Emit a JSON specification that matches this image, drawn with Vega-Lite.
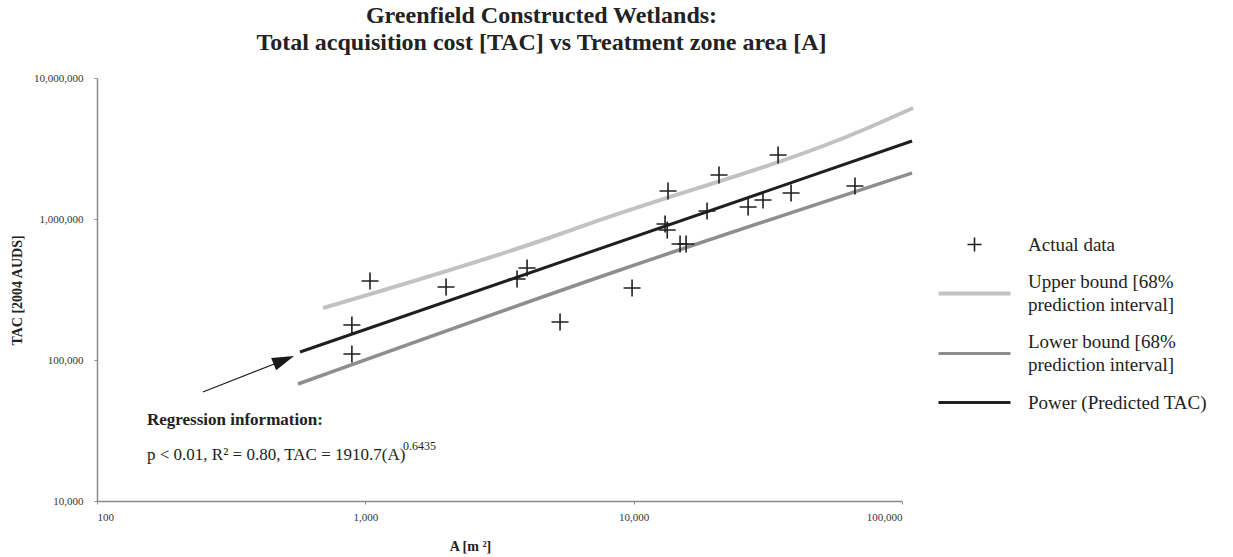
{
  "$schema": "https://vega.github.io/schema/vega-lite/v6.json",
  "width": 805,
  "height": 423,
  "autosize": {"type": "none"},
  "padding": {"left": 97, "top": 78, "right": 331, "bottom": 56},
  "background": "white",
  "title": {
    "text": ["Greenfield Constructed Wetlands:", "Total acquisition cost [TAC] vs Treatment zone area [A]"],
    "font": "Liberation Serif",
    "fontSize": 24,
    "fontWeight": "bold",
    "color": "#222222",
    "lineHeight": 27,
    "anchor": "middle",
    "dx": 42,
    "offset": 17
  },
  "datasets": {
    "points": [
      {"A": 1041, "TAC": 363000, "series": "Actual data"},
      {"A": 891, "TAC": 177000, "series": "Actual data"},
      {"A": 891, "TAC": 110300, "series": "Actual data"},
      {"A": 1999, "TAC": 329400, "series": "Actual data"},
      {"A": 3676, "TAC": 375400, "series": "Actual data"},
      {"A": 4006, "TAC": 449300, "series": "Actual data"},
      {"A": 5317, "TAC": 186000, "series": "Actual data"},
      {"A": 9863, "TAC": 324000, "series": "Actual data"},
      {"A": 13090, "TAC": 921000, "series": "Actual data"},
      {"A": 13340, "TAC": 835000, "series": "Actual data"},
      {"A": 13430, "TAC": 1580000, "series": "Actual data"},
      {"A": 14890, "TAC": 665000, "series": "Actual data"},
      {"A": 15680, "TAC": 665000, "series": "Actual data"},
      {"A": 18770, "TAC": 1139000, "series": "Actual data"},
      {"A": 20800, "TAC": 2051000, "series": "Actual data"},
      {"A": 26700, "TAC": 1217000, "series": "Actual data"},
      {"A": 30340, "TAC": 1364000, "series": "Actual data"},
      {"A": 34530, "TAC": 2844000, "series": "Actual data"},
      {"A": 38600, "TAC": 1529000, "series": "Actual data"},
      {"A": 66800, "TAC": 1714000, "series": "Actual data"}
    ],
    "lines": [
      {"A": 696, "TAC": 233800, "series": "Upper bound [68%|prediction interval]"},
      {"A": 4595, "TAC": 709800, "series": "Upper bound [68%|prediction interval]"},
      {"A": 7497, "TAC": 984000, "series": "Upper bound [68%|prediction interval]"},
      {"A": 71600, "TAC": 4277000, "series": "Upper bound [68%|prediction interval]"},
      {"A": 110000, "TAC": 6124000, "series": "Upper bound [68%|prediction interval]"},
      {"A": 561, "TAC": 67560, "series": "Lower bound [68%|prediction interval]"},
      {"A": 8897, "TAC": 434800, "series": "Lower bound [68%|prediction interval]"},
      {"A": 109000, "TAC": 2120000, "series": "Lower bound [68%|prediction interval]"},
      {"A": 571, "TAC": 113900, "series": "Power (Predicted TAC)"},
      {"A": 109000, "TAC": 3573000, "series": "Power (Predicted TAC)"}
    ],
    "arrow": [{"A": 248, "TAC": 59300, "A2": 500, "TAC2": 100000}],
    "head": [{"A": 497, "TAC": 99840}],
    "note1": [{"A": 153.6, "TAC": 37540, "label": "Regression information:"}],
    "note2": [{"A": 153.6, "TAC": 21190, "label": "p < 0.01, R² = 0.80, TAC = 1910.7(A)"}],
    "note3": [{"A": 1382, "TAC": 24550, "label": "0.6435"}]
  },
  "layer": [
    {
      "data": {"name": "lines"},
      "mark": {"type": "line", "clip": false, "interpolate": "monotone"},
      "encoding": {
        "x": {"field": "A", "type": "quantitative", "scale": {"type": "log", "domain": [100, 100000], "nice": false},
          "axis": {"values": [100, 1000, 10000, 100000], "format": ",", "title": "A [m ²]", "titleX": 373, "titleY": 45, "titleBaseline": "middle", "titleAnchor": null, "labelPadding": 7}},
        "y": {"field": "TAC", "type": "quantitative", "scale": {"type": "log", "domain": [10000, 10000000], "nice": false},
          "axis": {"values": [10000, 100000, 1000000, 10000000], "format": ",", "title": "TAC [2004 AUDS]", "titleX": -80, "titleY": 212, "titleBaseline": "middle", "titleAlign": "center", "titleAnchor": null, "labelPadding": 11}},
        "color": {
          "field": "series", "type": "nominal",
          "scale": {
            "domain": ["Actual data", "Upper bound [68%|prediction interval]", "Lower bound [68%|prediction interval]", "Power (Predicted TAC)"],
            "range": ["#1f1f1f", "#c2c2c2", "#8e8e8e", "#1f1f1f"]
          },
          "legend": {
            "title": null,
            "orient": "none",
            "legendX": 868,
            "legendY": 157,
            "direction": "vertical",
            "padding": 0,
            "symbolSize": 1600,
            "symbolOffset": 0,
            "labelOffset": 44,
            "rowPadding": 18,
            "labelFont": "Liberation Serif",
            "labelFontSize": 19,
            "labelColor": "#222222",
            "labelLimit": 400,
            "labelExpr": "split(datum.label, '|')",
            "encode": {
              "symbols": {
                "update": {
                  "shape": {"signal": "datum.value === 'Actual data' ? 'M-1,0H1M0,-1V1' : 'stroke'"},
                  "size": {"signal": "datum.value === 'Actual data' ? 196 : 5184"},
                  "strokeWidth": {"signal": "datum.value === 'Actual data' ? 1.6 : (datum.value === 'Upper bound [68%|prediction interval]' ? 4 : 3)"},
                  "stroke": {"signal": "scale('color', datum.value)"},
                  "fill": {"value": "transparent"},
                  "opacity": {"value": 1}
                }
              },
              "labels": {"update": {"lineHeight": {"value": 23}, "dy": {"signal": "indexof(datum.value, '|') >= 0 ? -11.5 : 0"}}}
            }
          }
        },
        "strokeWidth": {
          "field": "series", "type": "nominal",
          "scale": {"domain": ["Upper bound [68%|prediction interval]", "Lower bound [68%|prediction interval]", "Power (Predicted TAC)"], "range": [4, 3, 3]},
          "legend": null
        },
        "detail": {"field": "series"}
      }
    },
    {
      "data": {"name": "points"},
      "mark": {"type": "point", "shape": "M-1,0H1M0,-1V1", "filled": false, "size": 289, "strokeWidth": 1.6, "opacity": 1},
      "encoding": {
        "x": {"field": "A", "type": "quantitative"},
        "y": {"field": "TAC", "type": "quantitative"},
        "color": {"field": "series", "type": "nominal"}
      }
    },
    {
      "data": {"name": "arrow"},
      "mark": {"type": "rule", "color": "#1a1a1a", "strokeWidth": 1.2},
      "encoding": {
        "x": {"field": "A", "type": "quantitative"},
        "y": {"field": "TAC", "type": "quantitative"},
        "x2": {"field": "A2"},
        "y2": {"field": "TAC2"}
      }
    },
    {
      "data": {"name": "head"},
      "mark": {"type": "point", "shape": "M-1,-0.6L1,0L-1,0.6Z", "filled": true, "size": 484, "angle": -22, "color": "#1a1a1a", "opacity": 1},
      "encoding": {
        "x": {"field": "A", "type": "quantitative"},
        "y": {"field": "TAC", "type": "quantitative"}
      }
    },
    {
      "data": {"name": "note1"},
      "mark": {"type": "text", "align": "left", "baseline": "middle", "font": "Liberation Serif", "fontSize": 17, "fontWeight": "bold", "color": "#222222"},
      "encoding": {
        "x": {"field": "A", "type": "quantitative"},
        "y": {"field": "TAC", "type": "quantitative"},
        "text": {"field": "label"}
      }
    },
    {
      "data": {"name": "note2"},
      "mark": {"type": "text", "align": "left", "baseline": "middle", "font": "Liberation Serif", "fontSize": 17, "color": "#222222"},
      "encoding": {
        "x": {"field": "A", "type": "quantitative"},
        "y": {"field": "TAC", "type": "quantitative"},
        "text": {"field": "label"}
      }
    },
    {
      "data": {"name": "note3"},
      "mark": {"type": "text", "align": "left", "baseline": "middle", "font": "Liberation Serif", "fontSize": 12, "color": "#222222"},
      "encoding": {
        "x": {"field": "A", "type": "quantitative"},
        "y": {"field": "TAC", "type": "quantitative"},
        "text": {"field": "label"}
      }
    }
  ],
  "config": {
    "font": "Liberation Serif",
    "view": {"stroke": null},
    "axis": {
      "grid": false,
      "domainColor": "#8a8a8a",
      "domainWidth": 1.5,
      "tickColor": "#8a8a8a",
      "tickSize": 3,
      "labelFont": "Liberation Serif",
      "labelFontSize": 11,
      "labelColor": "#333333",
      "titleFont": "Liberation Serif",
      "titleFontSize": 14,
      "titleFontWeight": "bold",
      "titleColor": "#222222"
    }
  }
}
